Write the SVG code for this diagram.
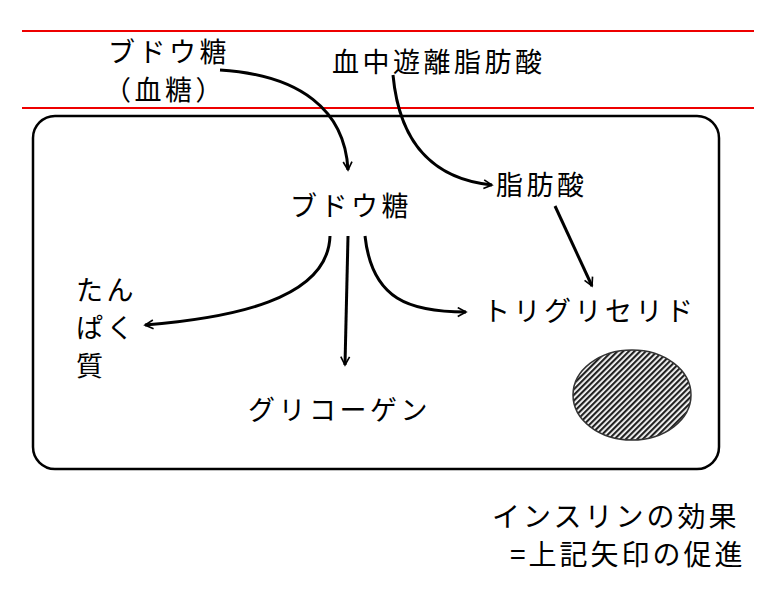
<svg xmlns="http://www.w3.org/2000/svg" width="776" height="599" viewBox="0 0 776 599">
<style>
text{font-family:"Noto Sans CJK JP","Noto Sans",sans-serif;font-size:27px;letter-spacing:3.5px;fill:#000}
.n{font-size:28px;letter-spacing:3px}
.c{fill:none;stroke:#000;stroke-width:3;marker-end:url(#a)}
</style>
<defs>
<marker id="a" viewBox="0 0 20 20" refX="17" refY="10" markerWidth="11" markerHeight="11" orient="auto" markerUnits="userSpaceOnUse">
<path d="M2,2 L17,10 L2,18" fill="none" stroke="#000" stroke-width="3"/>
</marker>
<pattern id="h" width="4" height="4" patternUnits="userSpaceOnUse" patternTransform="rotate(45)">
<rect width="4" height="4" fill="#fff"/><rect width="2.2" height="4" fill="#222"/>
</pattern>
</defs>
<rect width="776" height="599" fill="#fff"/>
<line x1="22" y1="31" x2="754" y2="31" stroke="#e00" stroke-width="2"/>
<line x1="22" y1="108" x2="754" y2="108" stroke="#e00" stroke-width="2"/>
<g id="cell"><rect x="33" y="116" width="686" height="353" rx="22" fill="none" stroke="#000" stroke-width="2.5"/></g>
<g id="vacuole"><ellipse cx="632" cy="395" rx="59" ry="45" fill="url(#h)" stroke="#333" stroke-width="1.5"/></g>
<g id="glucose-blood"><text x="108" y="62">ブドウ糖</text><text x="104" y="100">（血糖）</text></g>
<g id="ffa-blood"><text x="332" y="72">血中遊離脂肪酸</text></g>
<g id="glucose"><text x="290" y="216">ブドウ糖</text></g>
<g id="fa"><text x="496" y="195">脂肪酸</text></g>
<g id="protein"><text x="76" y="300">たん</text><text x="76" y="338">ぱく</text><text x="76" y="376">質</text></g>
<g id="tg"><text x="483" y="321">トリグリセリド</text></g>
<g id="glycogen"><text x="248" y="420">グリコーゲン</text></g>
<g id="note"><text class="n" x="492" y="527">インスリンの効果</text><text class="n" x="510" y="565">=上記矢印の促進</text></g>
<g id="connectors">
<path class="c" d="M220,70 C300,75 345,110 348,170"/>
<path class="c" d="M393,75 C400,150 440,180 492,185"/>
<path class="c" d="M555,206 L592,286"/>
<path class="c" d="M330,236 C328,300 230,318 145,325"/>
<path class="c" d="M348,236 L345,365"/>
<path class="c" d="M365,236 C372,300 410,312 466,312"/>
</g>
</svg>
